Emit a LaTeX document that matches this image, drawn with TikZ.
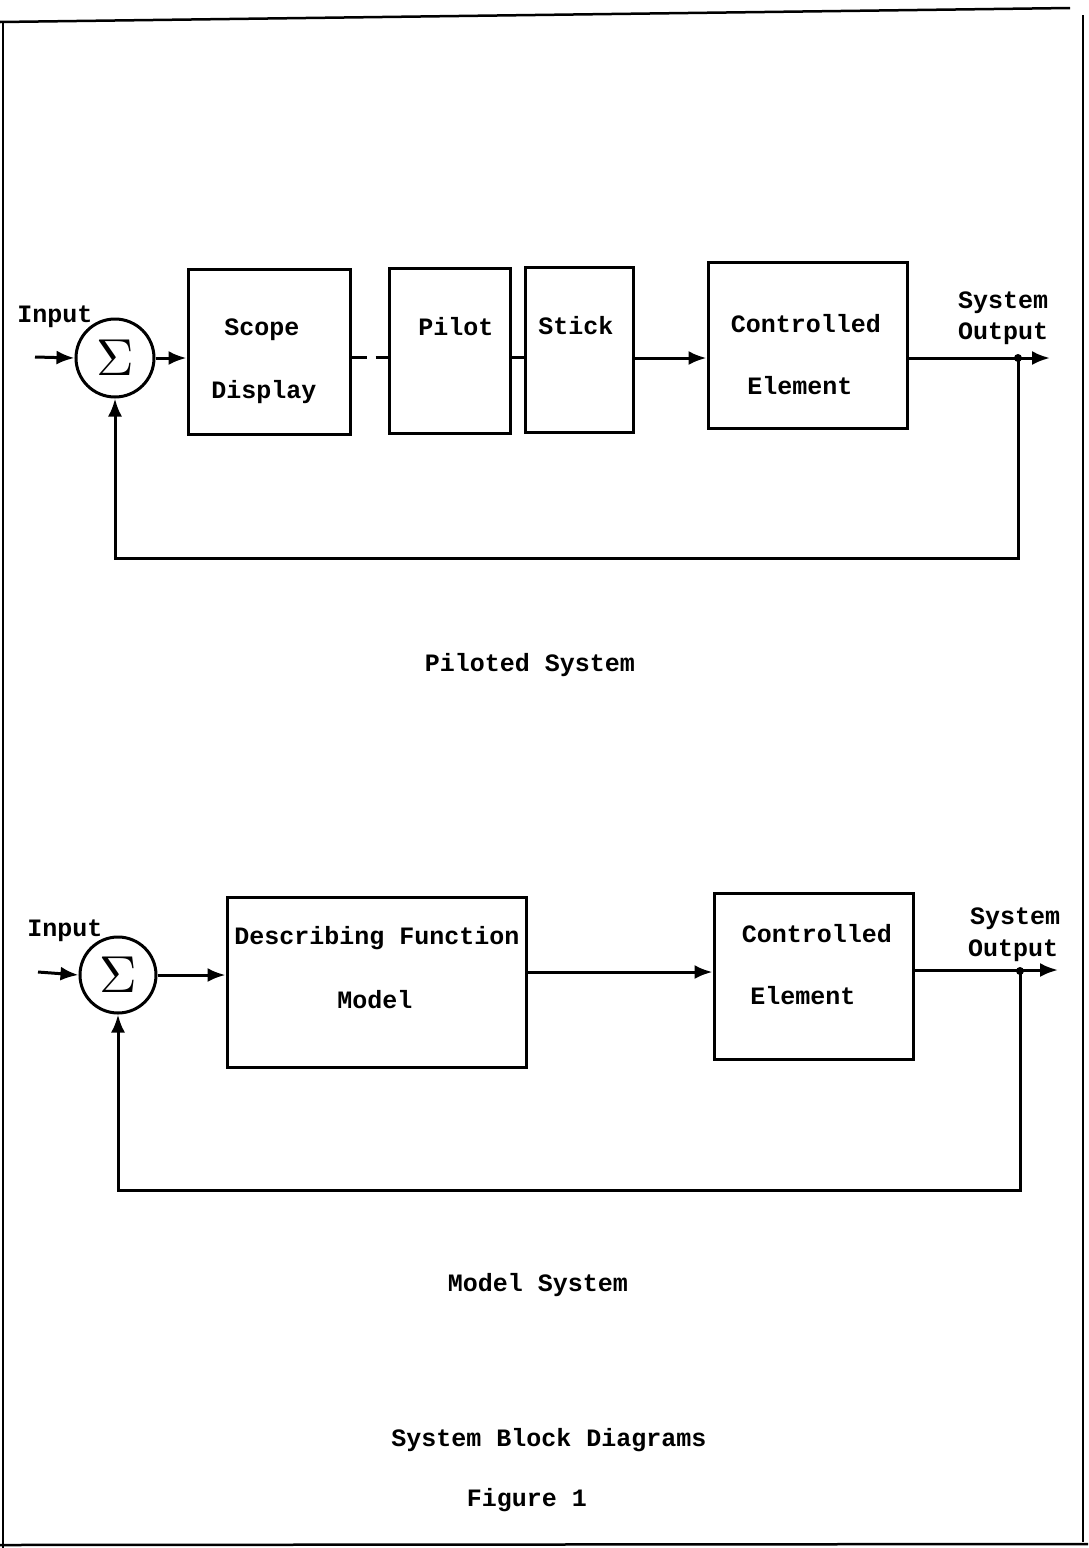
\documentclass[tikz,border=0pt]{standalone}
\usepackage{fontspec}
\setmonofont{Liberation Mono}
\usetikzlibrary{arrows.meta}
\begin{document}
\begin{tikzpicture}[x=1pt,y=-1pt,
  line width=3pt,
  box/.style={draw, line width=3pt, rectangle, inner sep=0pt},
  lbl/.style={font=\ttfamily\bfseries\fontsize{25}{25}\selectfont, inner sep=0pt, anchor=center},
  sumnode/.style={draw, circle, line width=3pt, inner sep=0pt},
  arr/.style={-{Latex[length=18pt,width=14pt]}},
  frame/.style={line width=2.5pt}]
\useasboundingbox (0,0) rectangle (1088,1548);
% page frame
\draw[frame] (0,22) -- (1070,8);
\draw[frame] (3,22) -- (3,1548);
\draw[frame] (1083,15) -- (1083,1542);
\draw[frame] (0,1545) -- (1088,1544);

% ---------- Piloted system ----------
\node[sumnode, minimum size=78pt] (s1) at (115,358) {\scalebox{5.2}{$\Sigma$}};
\node[lbl] (in1) at (55,317) {Input};
\coordinate (i1) at (35,357);
\node[box, minimum width=162pt, minimum height=165pt] (sd) at (269,352) {};
\node[lbl] (sdt1) at (262,330) {Scope};
\node[lbl] (sdt2) at (264,392) {Display};
\node[box, minimum width=121pt, minimum height=165pt] (pi) at (449.5,350.5) {};
\node[lbl] (pit) at (456,327) {Pilot};
\node[box, minimum width=108pt, minimum height=165pt] (st) at (579,349.5) {};
\node[lbl] (stt) at (576,326) {Stick};
\node[box, minimum width=199pt, minimum height=166pt] (ce1) at (807.5,345) {};
\node[lbl] (ce1t1) at (806,324) {Controlled};
\node[lbl] (ce1t2) at (800,386) {Element};
\node[lbl] (so1a) at (1003,303) {System};
\node[lbl] (so1b) at (1003,334) {Output};
\coordinate (o1) at (1050,358);
\coordinate (j1) at (1018,358);
\coordinate (b1) at (1018,558);

\draw[arr] (i1) -- (s1.west);
\draw[arr] (s1.east) -- (sd.west |- s1.east);
\draw[dashed, dash pattern=on 15pt off 9pt] (sd.east |- 0,357) -- (pi.west |- 0,357);
\draw (pi.east |- 0,357) -- (st.west |- 0,357);
\draw[arr] (st.east |- 0,358) -- (ce1.west |- 0,358);
\draw[arr] (ce1.east |- 0,358) -- (o1);
\fill (j1) circle (4pt);
\draw[arr] (j1) -- (b1) -| (s1.south);
\node[lbl] (cap1) at (530,665) {Piloted System};

% ---------- Model system ----------
\node[sumnode, minimum size=76pt] (s2) at (118,975) {\scalebox{5.2}{$\Sigma$}};
\node[lbl] (in2) at (65,931) {Input};
\coordinate (i2) at (38,972);
\node[box, minimum width=299pt, minimum height=170pt] (df) at (376.5,982) {};
\node[lbl] (dft1) at (377,938) {Describing Function};
\node[lbl] (dft2) at (375,1000) {Model};
\node[box, minimum width=199pt, minimum height=166pt] (ce2) at (813.5,976) {};
\node[lbl] (ce2t1) at (817,934) {Controlled};
\node[lbl] (ce2t2) at (803,996) {Element};
\node[lbl] (so2a) at (1015,919) {System};
\node[lbl] (so2b) at (1013,951) {Output};
\coordinate (o2) at (1058,970);
\coordinate (j2) at (1020,971);
\coordinate (b2) at (1020,1190);

\draw[arr] (i2) -- (s2.west);
\draw[arr] (s2.east) -- (df.west |- s2.east);
\draw[arr] (df.east |- 0,972) -- (ce2.west |- 0,972);
\draw[arr] (ce2.east |- 0,970) -- (o2);
\fill (j2) circle (4pt);
\draw[arr] (j2) -- (b2) -| (s2.south);
\node[lbl] (cap2) at (538,1285) {Model System};

\node[lbl] (title) at (549,1440) {System Block Diagrams};
\node[lbl] (fig) at (527,1500) {Figure 1};
\end{tikzpicture}
\end{document}
